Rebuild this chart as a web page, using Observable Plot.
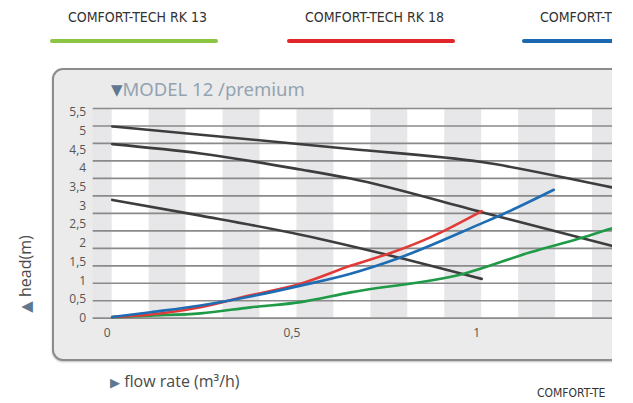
<!DOCTYPE html>
<html>
<head>
<meta charset="utf-8">
<script src="https://cdn.jsdelivr.net/npm/d3@7"></script>
<script src="https://cdn.jsdelivr.net/npm/@observablehq/plot@0.6"></script>
<style>
  html, body { margin: 0; padding: 0; background: #fff; }
  #page { position: absolute; left: 0; top: 0; width: 612px; height: 403px; overflow: hidden; }
  .abs { position: absolute; white-space: nowrap; }
  .leg { font-family: "Liberation Sans Narrow", "DejaVu Sans Condensed", "Liberation Sans", sans-serif; font-stretch: condensed; font-size: 14px; color: #333; }
  .legline { position: absolute; height: 4px; border-radius: 2px; }
  #panel { position: absolute; left: 52px; top: 68px; width: 640px; height: 289px; background: #ebebeb; border: 2px solid #8c8c8c; border-radius: 11px; box-shadow: 0 1px 2px rgba(0,0,0,0.25); }
  #chart { position: absolute; left: 0; top: 0; }
  .title { font-family: "Noto Sans", "DejaVu Sans", sans-serif; font-weight: 400; font-style: normal; font-size: 18.5px; color: #93a3b2; }
  .axt { font-family: "Open Sans", sans-serif; font-size: 16px; color: #4a4a4a; }
  .tri { color: #5d7890; font-family: "DejaVu Sans", sans-serif; font-style: normal; }
</style>
</head>
<body>
<div id="page">
  <div class="abs leg" style="left:68px; top:9px;">COMFORT-TECH RK 13</div>
  <div class="legline" style="left:50px; top:39px; width:168px; background:#8cc443;"></div>
  <div class="abs leg" style="left:305px; top:9px;">COMFORT-TECH RK 18</div>
  <div class="legline" style="left:287px; top:39px; width:168px; background:#e0262b;"></div>
  <div class="abs leg" style="left:540px; top:9px;">COMFORT-T</div>
  <div class="legline" style="left:522px; top:39px; width:168px; background:#1c68b0;"></div>
  <div id="panel"></div>
  <div id="chart"></div>
  <div class="abs title" style="left:111px; top:76px;"><span class="tri" style="font-size:15px; position:relative; top:-1px;">&#9660;</span>MODEL 12 /premium</div>
  <div class="abs axt" style="left:25px; top:274px; transform: translate(-50%,-50%) rotate(-90deg);"><span class="tri" style="font-size:15px;">&#9650;</span> head(m)</div>
  <div class="abs axt" style="left:110px; top:370px;"><span class="tri" style="font-size:13px;">&#9654;</span> flow rate (m³/h)</div>
  <div class="abs leg" style="left:537px; top:386px; font-size:12px;">COMFORT-TE</div>
</div>
<script>
// ---- data (flow rate m³/h, head m) ----
const xTicks = [0, 0.5, 1];
const yTicks = [0, 0.5, 1, 1.5, 2, 2.5, 3, 3.5, 4, 4.5, 5, 5.5];

const pumpHigh = [[0, 5.12], [0.239, 4.90], [0.645, 4.52], [1.0, 4.17], [1.349, 3.50], [1.38, 3.44]];
const pumpMid  = [[0, 4.65], [0.239, 4.40], [0.51, 3.97], [0.645, 3.73], [1.0, 2.83], [1.349, 1.94], [1.38, 1.86]];
const pumpLow  = [[0, 3.16], [0.239, 2.74], [0.51, 2.23], [0.771, 1.63], [1.0, 1.05]];

const rk18 = [[0, 0.03], [0.104, 0.10], [0.239, 0.29], [0.374, 0.61], [0.51, 0.92], [0.645, 1.40], [0.753, 1.74], [0.861, 2.16], [1.0, 2.86]];
const rk25 = [[0, 0.03], [0.104, 0.16], [0.239, 0.34], [0.374, 0.58], [0.51, 0.87], [0.645, 1.19], [0.771, 1.59], [0.997, 2.52], [1.06, 2.79], [1.195, 3.43]];
const rk13 = [[0, 0.03], [0.104, 0.07], [0.239, 0.13], [0.374, 0.29], [0.51, 0.43], [0.645, 0.69], [0.952, 1.19], [1.132, 1.76], [1.276, 2.16], [1.349, 2.39], [1.38, 2.48]];

// ---- layout ----
const X_MIN = -0.0514, X_MAX = 1.6, Y_TOP = 5.6;
const stripes = d3.range(-1, 16, 2).map(k => ({x1: k / 10, x2: (k + 1) / 10}));
const gridVals = d3.range(13).map(i => i * Y_TOP / 12);

const line = (data, stroke) => Plot.line(data, {x: d => d[0], y: d => d[1], stroke, strokeWidth: 2.6, curve: "monotone-x"});

const chart = Plot.plot({
  width: 720,
  height: 403,
  marginLeft: 92.7,
  marginRight: 720 - (111.7 + X_MAX * 369.5),
  marginTop: 108,
  marginBottom: 85.3,
  style: {background: "transparent", overflow: "visible", maxWidth: "none", fontFamily: "Open Sans, sans-serif"},
  x: {domain: [X_MIN, X_MAX]},
  y: {domain: [0, Y_TOP]},
  marks: [
    Plot.frame({fill: "#ffffff", stroke: null}),
    Plot.rect(stripes, {x1: "x1", x2: "x2", y1: 0, y2: Y_TOP, fill: "#e7e7e9", clip: true}),
    Plot.ruleY(gridVals, {stroke: "#8a8a8a", strokeWidth: 1.7}),
    Plot.axisY({ticks: yTicks, tickFormat: d => String(d).replace(".", ","), tickSize: 0, tickPadding: 7, fontSize: 12, label: null, color: "#555"}),
    Plot.axisX({ticks: xTicks, tickFormat: d => String(d).replace(".", ","), tickSize: 0, tickPadding: 10, dx: -5, fontSize: 12, label: null, color: "#555"}),
    line(pumpHigh, "#3d3d3d"),
    line(pumpMid, "#3d3d3d"),
    line(pumpLow, "#3d3d3d"),
    line(rk13, "#1f9a46"),
    line(rk18, "#e23a36"),
    line(rk25, "#1e6cb4")
  ]
});
document.getElementById("chart").appendChild(chart);
</script>
</body>
</html>
